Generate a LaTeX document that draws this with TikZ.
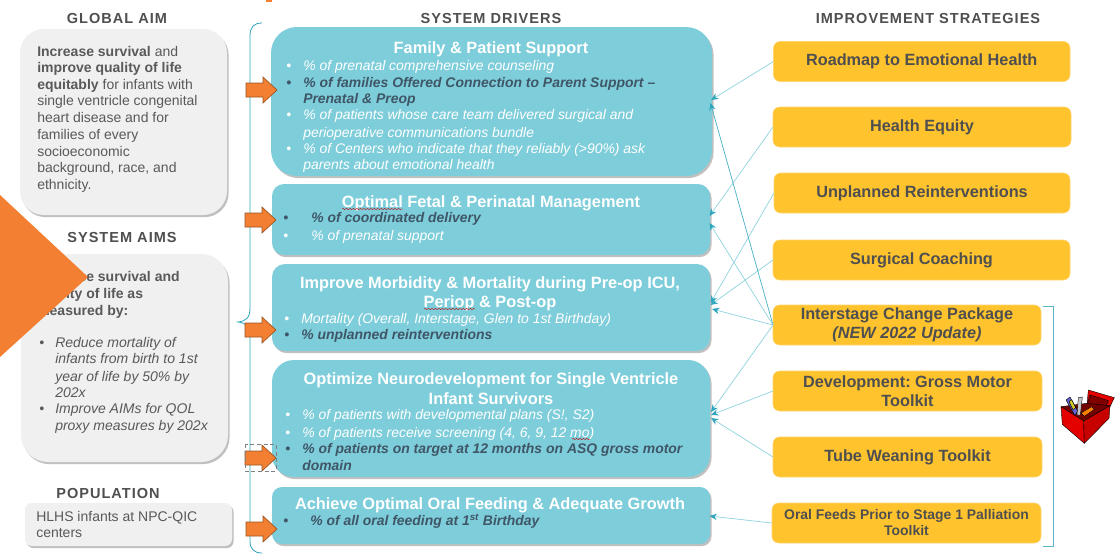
\documentclass[tikz,border=0pt]{standalone}
\usepackage{fontspec}
\setmainfont{Liberation Sans}
\newfontfamily\hdfont[LetterSpace=7]{Liberation Sans}
\usetikzlibrary{shadows,arrows.meta,decorations.pathmorphing}
\AtBeginDocument{\frenchspacing}
\definecolor{teal1}{HTML}{7ECDDA}
\definecolor{teal2}{HTML}{2FA6BD}
\definecolor{teal3}{HTML}{93D5E0}
\definecolor{org}{HTML}{F27F32}
\definecolor{orgd}{HTML}{9A5522}
\definecolor{yel}{HTML}{FFC32D}
\definecolor{gry}{HTML}{F0F0F0}
\definecolor{txt}{HTML}{595959}
\definecolor{txs}{HTML}{4F4F4F}
\definecolor{dkt}{HTML}{3F5667}
\tikzset{
  shad/.style={drop shadow={shadow xshift=1.2pt,shadow yshift=-1.6pt,fill=black!70,opacity=.35}},
  drv/.style={fill=teal1,shad,inner sep=0pt,outer sep=0pt},
  strat/.style={fill=yel,draw=yel!70!white,line width=.4pt,inner sep=0pt,outer sep=0pt,align=center,text=txs,font=\fontsize{12.2}{14.3}\selectfont\bfseries},
  aim/.style={fill=gry,shad,inner sep=0pt,outer sep=0pt},
  hd/.style={inner sep=0pt,anchor=base,text=txs,font=\hdfont\fontsize{10.9}{12}\selectfont\bfseries},
  tl/.style={inner sep=0pt,anchor=base west},
  ttl/.style={inner sep=0pt,anchor=base,text=white,font=\fontsize{12.27}{14}\selectfont\bfseries},
  wb/.style={text=white,font=\fontsize{10.45}{12}\selectfont\itshape},
  db/.style={text=dkt,font=\fontsize{10.45}{12}\selectfont\itshape\bfseries},
  gt/.style={text=txt,font=\fontsize{10.5}{12}\selectfont},
  gb/.style={text=txt,font=\fontsize{10.5}{12}\selectfont\bfseries},
  gi/.style={text=txt,font=\fontsize{10.5}{12}\selectfont\itshape},
  blockarrow/.style={fill=org,draw=orgd,line width=.5pt,line join=miter},
  conn/.style={draw=teal3,line width=.55pt},
  head/.style={conn,-{Stealth[length=5.5pt,width=4.8pt,color=teal2]}},
  squig/.style={draw=red!75!black,line width=.3pt,decorate,decoration={snake,amplitude=.45pt,segment length=2.6pt}},
  toolf/.style={draw=black,line width=.3pt,line join=round}
}
\newcommand{\shapebox}[7]{\node[#1,rounded corners=#7*.75pt,minimum width={(#5-#3)*.75pt},minimum height={(#6-#4)*.75pt}] (#2) at ({(#3+#5)/2},{(#4+#6)/2}) {};}
\newcommand{\stratbox}[6]{\node[strat,rounded corners=5pt,minimum width={(#4-#2)*.75pt},minimum height={(#5-#3)*.75pt}] (#1) at ({(#2+#4)/2},{(#3+#5)/2}) {#6};}
\newcommand{\tline}[5]{\node[tl,#4] (#1) at (#2,#3) {#5};}
\newcommand{\bline}[6]{\node[tl,#5] (#1b) at (#2,#4) {\textbullet}; \node[tl,#5] (#1) at (#3,#4) {#6};}
\newcommand{\blockar}[2]{\draw[blockarrow] (#1,#2-7) -- ++(17,0) -- ++(0,-6) -- ++(14,13) -- ++(-14,13) -- ++(0,-6) -- ++(-17,0) -- cycle;}
\begin{document}
\begin{tikzpicture}[x=.75pt,y=-.75pt]
\useasboundingbox (0,0) rectangle (1115,554);
\fill[white] (0,0) rectangle (1115,554);
\fill[org] (266,0) rectangle (272,1.5);

% headings
\node[hd] (hGlobal) at (117,23) {GLOBAL AIM};
\node[hd] (hSysAims) at (122,242) {SYSTEM AIMS};
\node[hd] (hPop) at (108,498) {POPULATION};
\node[hd] (hDrivers) at (491,23) {SYSTEM DRIVERS};
\node[hd] (hStrat) at (928,23) {IMPROVEMENT STRATEGIES};

% grey boxes
\shapebox{aim}{gA}{20}{29}{227}{215}{24}
\shapebox{aim}{sA}{21}{254}{228}{462}{27}
\shapebox{aim}{pA}{25}{503}{232}{546}{7}

\node[tl,gt] (g1) at (37,56) {\textbf{Increase survival} and};
\tline{g2}{37}{72}{gb}{improve quality of life}
\node[tl,gt] (g3) at (37,89) {\textbf{equitably} for infants with};
\tline{g4}{37}{105}{gt}{single ventricle congenital}
\tline{g5}{37}{122}{gt}{heart disease and for}
\tline{g6}{37}{139}{gt}{families of every}
\tline{g7}{37}{156}{gt}{socioeconomic}
\tline{g8}{37}{172}{gt}{background, race, and}
\tline{g9}{37}{189}{gt}{ethnicity.}

\tline{a1}{37}{281}{gb}{Increase survival and}
\tline{a2}{37}{298}{gb}{quality of life as}
\tline{a3}{37}{315}{gb}{measured by:}
\bline{a4}{39}{55}{347}{gi}{Reduce mortality of}
\tline{a5}{55}{363}{gi}{infants from birth to 1st}
\tline{a6}{55}{381}{gi}{year of life by 50\% by}
\tline{a7}{55}{397}{gi}{202x}
\bline{a8}{39}{55}{413}{gi}{Improve AIMs for QOL}
\tline{a9}{55}{430}{gi}{proxy measures by 202x}

\tline{p1}{36}{521}{gt}{HLHS infants at NPC-QIC}
\tline{p2}{36}{537}{gt}{centers}

% large orange triangle
\fill[org] (0,195) -- (88,277) -- (0,357) -- cycle;

% brace
\coordinate (brT) at (262,23);
\coordinate (brB) at (262,553);
\coordinate (brM) at (238,322);
\draw[teal2,line width=.6pt] (brT) .. controls (254,23) and (250,27) .. (250,36) -- (250,308)
  .. controls (250,318) and (246,321) .. (brM) .. controls (246,323) and (250,326) .. (250,336)
  -- (250,541) .. controls (250,549) and (254,553) .. (brB);

% drivers
\shapebox{drv}{d1}{271}{27}{712}{176}{26}
\shapebox{drv}{d2}{272}{184}{710}{255}{12}
\shapebox{drv}{d3}{272}{264}{710}{351}{13}
\shapebox{drv}{d4}{272}{360}{710}{477}{22}
\shapebox{drv}{d5}{272}{487}{710}{544}{10}

\node[ttl] (d1t) at (491,53) {Family \& Patient Support};
\bline{d1a}{286}{303}{70}{wb}{\% of prenatal comprehensive counseling}
\bline{d1c}{286}{303}{87}{db}{\% of families Offered Connection to Parent Support –}
\tline{d1d}{303}{103}{db}{Prenatal \& Preop}
\bline{d1e}{286}{303}{119}{wb}{\% of patients whose care team delivered surgical and}
\tline{d1f}{303}{137}{wb}{perioperative communications bundle}
\bline{d1g}{286}{303}{153}{wb}{\% of Centers who indicate that they reliably (>90\%) ask}
\tline{d1h}{303}{169}{wb}{parents about emotional health}

\node[ttl] (d2t) at (491,207) {Optimal Fetal \& Perinatal Management};
\bline{d2a}{283}{311}{222}{db}{\% of coordinated delivery}
\bline{d2c}{283}{311}{240}{wb}{\% of prenatal support}
\coordinate (sq1a) at (342,209); \coordinate (sq1b) at (403,209);
\draw[squig] (sq1a) -- (sq1b);

\node[ttl] (d3t) at (490,288) {Improve Morbidity \& Mortality during Pre-op ICU,};
\node[ttl] (d3u) at (490,307) {Periop \& Post-op};
\bline{d3a}{284}{301}{323}{wb}{Mortality (Overall, Interstage, Glen to 1st Birthday)}
\bline{d3c}{284}{301}{339}{db}{\% unplanned reinterventions}
\coordinate (sq2a) at (424,309); \coordinate (sq2b) at (475,309);
\draw[squig] (sq2a) -- (sq2b);

\node[ttl] (d4t) at (491,384) {Optimize Neurodevelopment for Single Ventricle};
\node[ttl] (d4u) at (491,404) {Infant Survivors};
\bline{d4a}{285}{302}{419}{wb}{\% of patients with developmental plans (S!, S2)}
\bline{d4c}{285}{302}{437}{wb}{\% of patients receive screening (4, 6, 9, 12 mo)}
\bline{d4e}{285}{302}{453}{db}{\% of patients on target at 12 months on ASQ gross motor}
\tline{d4f}{302}{470}{db}{domain}
\coordinate (sq3a) at (572,439); \coordinate (sq3b) at (590,439);
\draw[squig] (sq3a) -- (sq3b);

\node[ttl] (d5t) at (490,509) {Achieve Optimal Oral Feeding \& Adequate Growth};
\bline{d5a}{283}{310}{525}{db}{\% of all oral feeding at 1\textsuperscript{st} Birthday}

% block arrows
\blockar{246}{90}
\blockar{245}{220}
\blockar{245}{330}
\blockar{245}{458}
\blockar{246}{529}
\draw[gray,densely dashed,line width=.4pt] (245,444) rectangle (276,471);

% strategies
\stratbox{s1}{773.5}{41.5}{1070}{81.5}{Roadmap to Emotional Health}
\stratbox{s2}{773}{107}{1071}{147}{Health Equity}
\stratbox{s3}{774}{173}{1070}{213}{Unplanned Reinterventions}
\stratbox{s4}{773}{240}{1070}{280}{Surgical Coaching}
\stratbox{s5}{773}{305}{1041}{345}{Interstage Change Package\\\textit{(NEW 2022 Update)}}
\stratbox{s6}{773}{371}{1042}{411}{Development: Gross Motor\\Toolkit}
\stratbox{s7}{773}{437}{1042}{477}{Tube Weaning Toolkit}
\node[strat,rounded corners=5pt,font=\fontsize{10.45}{12}\selectfont\bfseries,minimum width={269*.75pt},minimum height={40*.75pt}] (s8) at (906.5,523) {Oral Feeds Prior to Stage 1 Palliation\\Toolkit};

% connector targets
\coordinate (t1a) at (711,100);
\coordinate (t1b) at (710.5,103);
\coordinate (t2a) at (709.5,216);
\coordinate (t2b) at (709.5,223);
\coordinate (t3a) at (710.5,303);
\coordinate (t3b) at (710.5,305);
\coordinate (t3c) at (712,309);
\coordinate (t4a) at (711,412);
\coordinate (t4b) at (711,415);
\coordinate (t4c) at (711,418);
\coordinate (t5a) at (709.5,516);

\draw[head] (s1.west) -- (t1a);
\draw[head] (s2.west) -- (t2a);
\draw[head] (s3.west) -- (t3a);
\draw[head] (s4.west) -- (t3b);
\draw[head,draw=teal2!85] (s5.west) -- (t1b);
\draw[head] (s5.west) -- (t2b);
\draw[head] (s5.west) -- (t3c);
\draw[head] (s5.west) -- (t4a);
\draw[head] (s6.west) -- (t4b);
\draw[head] (s7.west) -- (t4c);
\draw[head] (s8.west) -- (t5a);

% right bracket
\coordinate (rbT) at (1043,306);
\coordinate (rbB) at (1043,546);
\draw[teal2!80,line width=.7pt] (rbT) -- (1053,306) -- (1053,546) -- (rbB);

% toolbox (coordinates in thirds of a pixel from its corner)
\begin{scope}[shift={(1055,385)},x=.25pt,y=-.25pt]
  \fill[toolf,fill=red!90!black] (100,15) -- (178,38) -- (165,65) -- (95,72) -- cycle;
  \fill[toolf,fill=red!50!black] (105,30) -- (160,47) -- (152,66) -- (90,80) -- cycle;
  \fill[toolf,fill=red!45!black] (18,65) -- (95,55) -- (165,62) -- (86,108) -- cycle;
  \fill[toolf,fill=blue!55!gray!80!white] (33,45) -- (45,36) -- (68,78) -- (60,92) -- cycle;
  \fill[toolf,fill=yellow!80!black] (42,50) -- (50,44) -- (62,68) -- (54,74) -- cycle;
  \fill[toolf,fill=gray!45] (70,38) -- (82,36) -- (76,90) -- (66,90) -- cycle;
  \fill[toolf,fill=orange] (78,84) -- (110,65) -- (118,73) -- (88,94) -- cycle;
  \fill[toolf,fill=red!90!black] (18,65) -- (86,108) -- (88,175) -- (22,118) -- cycle;
  \fill[toolf,fill=red!78!black] (86,108) -- (165,62) -- (162,100) -- (88,175) -- cycle;
\end{scope}
\end{tikzpicture}
\end{document}
